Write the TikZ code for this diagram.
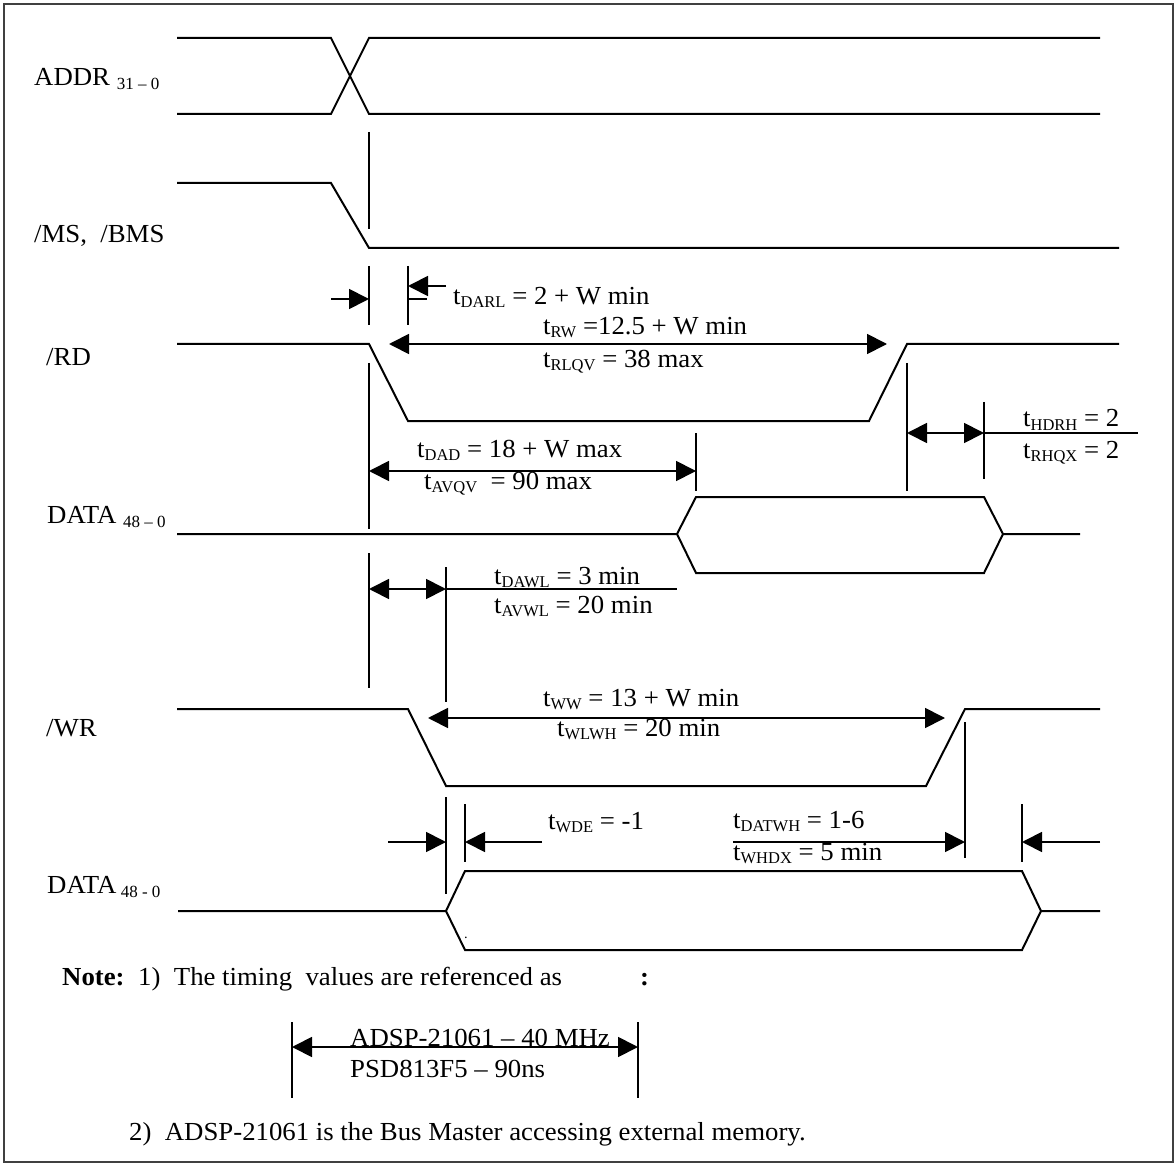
\documentclass[tikz,border=0pt]{standalone}
\usepackage{fontspec}
\setmainfont{Liberation Serif}[FakeStretch=1.03]
\newfontfamily\subfont{Liberation Serif}
\usetikzlibrary{arrows.meta}
\newcommand{\sbs}[1]{\raisebox{-3pt}{\subfont\fontsize{16.5}{16.5}\selectfont #1}}
\newcommand{\tsub}[1]{t\sbs{#1}}
\newcommand{\lsub}[1]{\raisebox{-4pt}{\subfont\fontsize{17}{17}\selectfont #1}}
\begin{document}
\begin{tikzpicture}[x=1pt,y=-1pt,
  sig/.style={line width=2pt, line join=miter},
  vln/.style={line width=1.7pt},
  dimln/.style={line width=1.8pt},
  arrR/.style={dimln,-{Triangle[length=20pt,width=20pt]}},
  arrB/.style={dimln,{Triangle[length=20pt,width=20pt]}-{Triangle[length=20pt,width=20pt]}},
  lbl/.style={anchor=base west, inner sep=0pt, font=\fontsize{26}{30}\selectfont},
]
\useasboundingbox (0,0) rectangle (1176,1166);
\draw[line width=2pt, black!75] (4,4) rectangle (1173,1162);

% ---------- ADDR ----------
\draw[sig] (177,38) -- (331,38) -- (369,114) -- (1100,114);
\draw[sig] (177,114) -- (331,114) -- (369,38) -- (1100,38);
\node[lbl] (lADDR) at (34,86) {ADDR \lsub{31 – 0}};

% ---------- /MS ----------
\draw[sig] (177,183) -- (331,183) -- (369,248) -- (1119,248);
\node[lbl] (lMS) at (34,243) {/MS,\ \ /BMS};
\coordinate (v0a) at (369,132); \coordinate (v0b) at (369,229);
\draw[vln] (v0a) -- (v0b);

% ---------- /RD ----------
\draw[sig] (177,344) -- (369,344) -- (408,421) -- (869,421) -- (907,344) -- (1119,344);
\node[lbl] (lRD) at (46,366) {/RD};

% tDARL
\coordinate (v1a) at (369,266); \coordinate (v1b) at (369,325);
\coordinate (v2a) at (408,266); \coordinate (v2b) at (408,325);
\draw[vln] (v1a) -- (v1b); \draw[vln] (v2a) -- (v2b);
\coordinate (d1s) at (331,299); \coordinate (d1e) at (369,299);
\coordinate (d2s) at (446,286); \coordinate (d2e) at (408,286);
\draw[arrR] (d1s) -- (d1e);
\draw[arrR] (d2s) -- (d2e);
\coordinate (d3s) at (408,299); \coordinate (d3e) at (427,299);
\draw[vln] (d3s) -- (d3e);
\node[lbl] (tDARL) at (453,305) {\tsub{DARL} = 2 + W min};

% tRW
\coordinate (rwL) at (389,344); \coordinate (rwR) at (887,344);
\draw[arrB] (rwL) -- (rwR);
\node[lbl] (tRW) at (543,335) {\tsub{RW} =12.5 + W min};
\node[lbl] (tRLQV) at (543,367) {\tsub{RLQV} = 38 max};

% ---------- DATA read ----------
\coordinate (v3a) at (369,363); \coordinate (v3b) at (369,529);
\draw[vln] (v3a) -- (v3b);
\node[lbl] (lDATA1) at (47,523) {DATA \lsub{48 – 0}};
\draw[sig] (177,534) -- (677,534) -- (696,497) -- (984,497) -- (1003,534) -- (1080,534);
\draw[sig] (677,534) -- (696,573) -- (984,573) -- (1003,534);

% tDAD
\coordinate (v4a) at (696,433); \coordinate (v4b) at (696,491);
\draw[vln] (v4a) -- (v4b);
\coordinate (dadL) at (369,471); \coordinate (dadR) at (696,471);
\draw[arrB] (dadL) -- (dadR);
\node[lbl] (tDAD) at (417,457) {\tsub{DAD} = 18 + W max};
\node[lbl] (tAVQV) at (424,489) {\tsub{AVQV}\ \ = 90 max};

% tHDRH
\coordinate (v5a) at (907,363); \coordinate (v5b) at (907,491);
\coordinate (v6a) at (984,402); \coordinate (v6b) at (984,479);
\draw[vln] (v5a) -- (v5b); \draw[vln] (v6a) -- (v6b);
\coordinate (hdL) at (907,433); \coordinate (hdR) at (984,433); \coordinate (hdE) at (1138,433);
\draw[arrB] (hdL) -- (hdR);
\draw[dimln] (hdR) -- (hdE);
\node[lbl] (tHDRH) at (1023,427) {\tsub{HDRH} = 2};
\node[lbl] (tRHQX) at (1023,458) {\tsub{RHQX} = 2};

% tDAWL
\coordinate (v7a) at (369,553); \coordinate (v7b) at (369,688);
\coordinate (v8a) at (446,567); \coordinate (v8b) at (446,702);
\draw[vln] (v7a) -- (v7b); \draw[vln] (v8a) -- (v8b);
\coordinate (dwL) at (369,589); \coordinate (dwR) at (446,589); \coordinate (dwE) at (677,589);
\draw[arrB] (dwL) -- (dwR);
\draw[dimln] (dwR) -- (dwE);
\node[lbl] (tDAWL) at (494,584) {\tsub{DAWL} = 3 min};
\node[lbl] (tAVWL) at (494,613) {\tsub{AVWL} = 20 min};

% ---------- /WR ----------
\draw[sig] (177,709) -- (408,709) -- (446,786) -- (926,786) -- (965,709) -- (1100,709);
\node[lbl] (lWR) at (46,736) {/WR};
\coordinate (wwL) at (428,718); \coordinate (wwR) at (945,718);
\draw[arrB] (wwL) -- (wwR);
\node[lbl] (tWW) at (543,706) {\tsub{WW} = 13 + W min};
\node[lbl] (tWLWH) at (557,736) {\tsub{WLWH} = 20 min};
\coordinate (v9a) at (965,722); \coordinate (v9b) at (965,858);
\draw[vln] (v9a) -- (v9b);

% ---------- DATA write ----------
\coordinate (v10a) at (446,797); \coordinate (v10b) at (446,894);
\coordinate (v11a) at (465,804); \coordinate (v11b) at (465,862);
\draw[vln] (v10a) -- (v10b); \draw[vln] (v11a) -- (v11b);
\coordinate (wd1s) at (388,842); \coordinate (wd1e) at (446,842);
\coordinate (wd2s) at (542,842); \coordinate (wd2e) at (465,842);
\draw[arrR] (wd1s) -- (wd1e);
\draw[arrR] (wd2s) -- (wd2e);
\node[lbl] (tWDE) at (548,829) {\tsub{WDE} = -1};
\node[lbl] (lDATA2) at (47,893) {DATA\,\lsub{48 - 0}};
\draw[sig] (178,911) -- (446,911) -- (465,871) -- (1022,871) -- (1041,911) -- (1100,911);
\draw[sig] (446,911) -- (465,950) -- (1022,950) -- (1041,911);
\node[anchor=base, inner sep=0pt, font=\fontsize{14}{14}\selectfont] (dot) at (466,938) {.};

\coordinate (dtL) at (733,842); \coordinate (dtR) at (965,842);
\draw[arrR] (dtL) -- (dtR);
\node[lbl] (tDATWH) at (733,828) {\tsub{DATWH} = 1-6};
\node[lbl] (tWHDX) at (733,860) {\tsub{WHDX} = 5 min};
\coordinate (v12a) at (1022,804); \coordinate (v12b) at (1022,862);
\draw[vln] (v12a) -- (v12b);
\coordinate (wd3s) at (1100,842); \coordinate (wd3e) at (1022,842);
\draw[arrR] (wd3s) -- (wd3e);

% ---------- Notes ----------
\node[lbl] (nNote) at (62,985) {\bfseries Note:};
\node[lbl] (n1) at (138,985) {1)\ \ The timing\ \ values are referenced as};
\node[lbl] (nColon) at (640,985) {\bfseries :};
\coordinate (b1a) at (292,1022); \coordinate (b1b) at (292,1098);
\coordinate (b2a) at (638,1022); \coordinate (b2b) at (638,1098);
\draw[vln] (b1a) -- (b1b); \draw[vln] (b2a) -- (b2b);
\coordinate (bL) at (292,1047); \coordinate (bR) at (638,1047);
\draw[arrB] (bL) -- (bR);
\node[lbl] (nADSP) at (350,1046) {ADSP-21061 – 40 MHz};
\node[lbl] (nPSD) at (350,1077) {PSD813F5 – 90ns};
\node[lbl] (n2) at (129,1140) {2)\ \ ADSP-21061 is the Bus Master accessing external memory.};
\end{tikzpicture}
\end{document}
